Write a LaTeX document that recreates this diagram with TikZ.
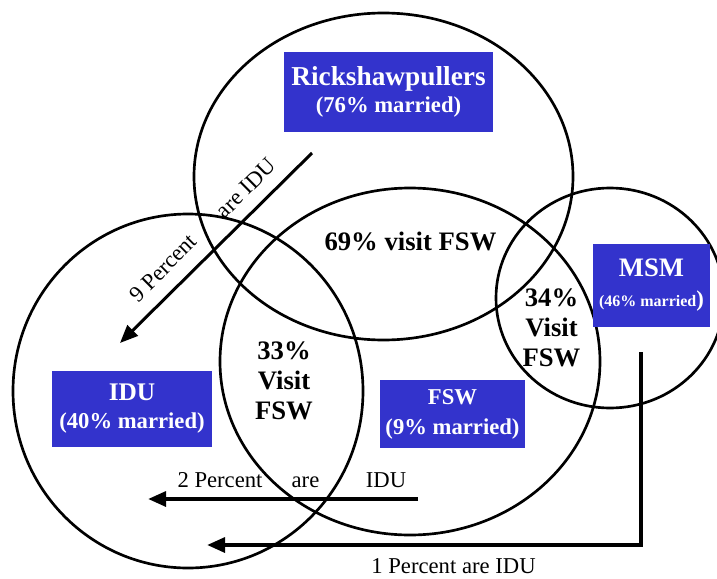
\documentclass[tikz,border=0pt]{standalone}
\usepackage{fontspec}
\setmainfont{Liberation Serif}
\usetikzlibrary{arrows.meta,shapes.geometric}
\definecolor{boxblue}{RGB}{51,51,204}

\begin{document}
\begin{tikzpicture}
  [x=0.75pt,y=-0.75pt,
   group/.style={ellipse,draw,line width=2pt,inner sep=0pt},
   tag/.style={rectangle,fill=boxblue,text=white,align=center,inner sep=0pt},
   share/.style={align=center,font=\fontsize{20}{22.5}\selectfont\bfseries},
   flow/.style={-{Triangle[length=13.5pt,width=11pt]},line width=3pt},
   note/.style={font=\fontsize{17}{20}\selectfont,inner sep=0pt}]

  \useasboundingbox (0,0) rectangle (717,578);

  % the four groups
  \node [group,minimum width=284.25pt,minimum height=245.25pt] (rick) at (383.5,176.5) {};
  \node [group,minimum width=262.5pt,minimum height=265.5pt]   (idu)  at (188,391)     {};
  \node [group,minimum width=285pt,minimum height=260.25pt]    (fsw)  at (410,361.5)   {};
  \node [group,minimum width=171pt,minimum height=165pt]       (msm)  at (610,298)     {};

  % group names
  \node [tag,minimum width=156.75pt,minimum height=60pt,font=\bfseries\fontsize{20.5}{20.25}\selectfont]
    (rick box) at (388.5,92) {Rickshawpullers\\{\fontsize{17}{20.25}\selectfont (76\% married)}};
  \node [tag,minimum width=120pt,minimum height=57pt,font=\bfseries\fontsize{19}{21}\selectfont]
    (idu box) at (132,409) {IDU\\{\fontsize{17}{21}\selectfont (40\% married)}};
  \node [tag,minimum width=108.75pt,minimum height=51pt,font=\bfseries\fontsize{17}{22.5}\selectfont]
    (fsw box) at (452.5,414) {FSW\\(9\% married)};
  \node [tag,minimum width=87.75pt,minimum height=62.25pt,font=\bfseries\fontsize{20}{22.5}\selectfont]
    (msm box) at (651.5,285.5) {MSM\\{\fontsize{12}{22.5}\selectfont(46\% married}{\fontsize{17}{22.5}\selectfont)}};

  % overlaps
  \node [share,anchor=base] (rick visit) at (410.5,250) {69\% visit FSW};
  \node [share] (idu visit) at (284,381) {33\%\\Visit\\FSW};
  \node [share] (msm visit) at (551.5,328) {34\%\\Visit\\FSW};

  % flows to IDU
  \coordinate (rick out) at (312,153);
  \coordinate (rick in)  at (120,343);
  \coordinate (fsw out)  at (418,499);
  \coordinate (fsw in)   at (148,499);
  \coordinate (msm out)  at (641,352);
  \coordinate (msm in)   at (207,545);

  \draw [flow,line width=2.25pt] (rick out) -- (rick in);
  \draw [flow] (fsw out) -- (fsw in);
  \draw [flow,line join=miter] (msm out) |- (msm in);

  \node [note,rotate=44.7] (rick pct) at (163,268) {9 Percent};
  \node [note,rotate=44.7] (rick are) at (246,188) {are IDU};
  \node [note,anchor=base] (fsw pct) at (220,487)   {2 Percent};
  \node [note,anchor=base] (fsw are) at (305.5,487) {are};
  \node [note,anchor=base] (fsw idu) at (386,487)   {IDU};
  \node [note,anchor=base] (msm pct) at (453.5,573) {1 Percent are IDU};

\end{tikzpicture}
\end{document}
